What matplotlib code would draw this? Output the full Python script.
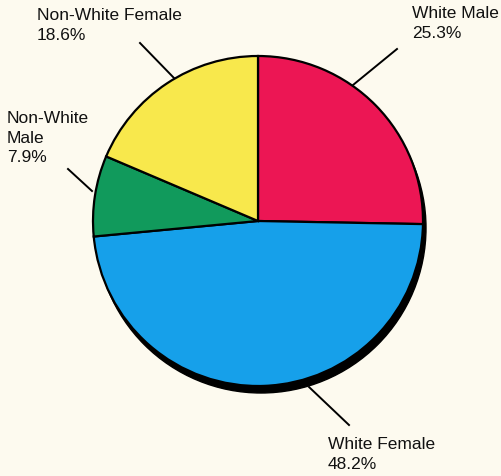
import matplotlib.pyplot as plt
from matplotlib.patches import Circle

plt.rcParams['font.family'] = ['Liberation Sans', 'DejaVu Sans']

# data
groups = ['White Male', 'White Female', 'Non-White Male', 'Non-White Female']
shares = [25.3, 48.2, 7.9, 18.6]
colors = ['#EC1654', '#16A0EA', '#119A5C', '#F8E84C']
label_text = ['White Male\n25.3%', 'White Female\n48.2%', 'Non-White\nMale\n7.9%',
              'Non-White Female\n18.6%']

# layout in pixel coords (y measured from the top of the picture)
W, H = 502, 477
cx, cy, r = 258, 222, 165
text_pos = [(412, 6), (328, 437), (7, 111), (37, 8)]
leaders = [((353, 86), (397, 50)), ((309, 388), (349, 426)),
           ((92, 192), (68, 170)), ((174, 79), (140, 44))]

fig = plt.figure(figsize=(W / 100, H / 100), dpi=100)
fig.patch.set_facecolor('#FDFAEF')
ax = fig.add_axes([0, 0, 1, 1])

# drop shadow
ax.add_patch(Circle((cx + 3, H - cy - 7), r, color='black', zorder=1))

ax.pie(shares, colors=colors, startangle=90, counterclock=False,
       center=(cx, H - cy), radius=r, frame=True,
       wedgeprops=dict(edgecolor='black', linewidth=1.6, zorder=2))
ax.set_xlim(0, W)
ax.set_ylim(0, H)
ax.axis('off')

for txt, (tx, ty) in zip(label_text, text_pos):
    ax.text(tx, H - ty, txt, ha='left', va='top', fontsize=12.5, color='#111111',
            linespacing=1.38, zorder=5)

for (x0, y0), (x1, y1) in leaders:
    ax.plot([x0, x1], [H - y0, H - y1], color='black', lw=1.4, zorder=4)

fig.savefig('out.png', dpi=100, facecolor=fig.get_facecolor())
